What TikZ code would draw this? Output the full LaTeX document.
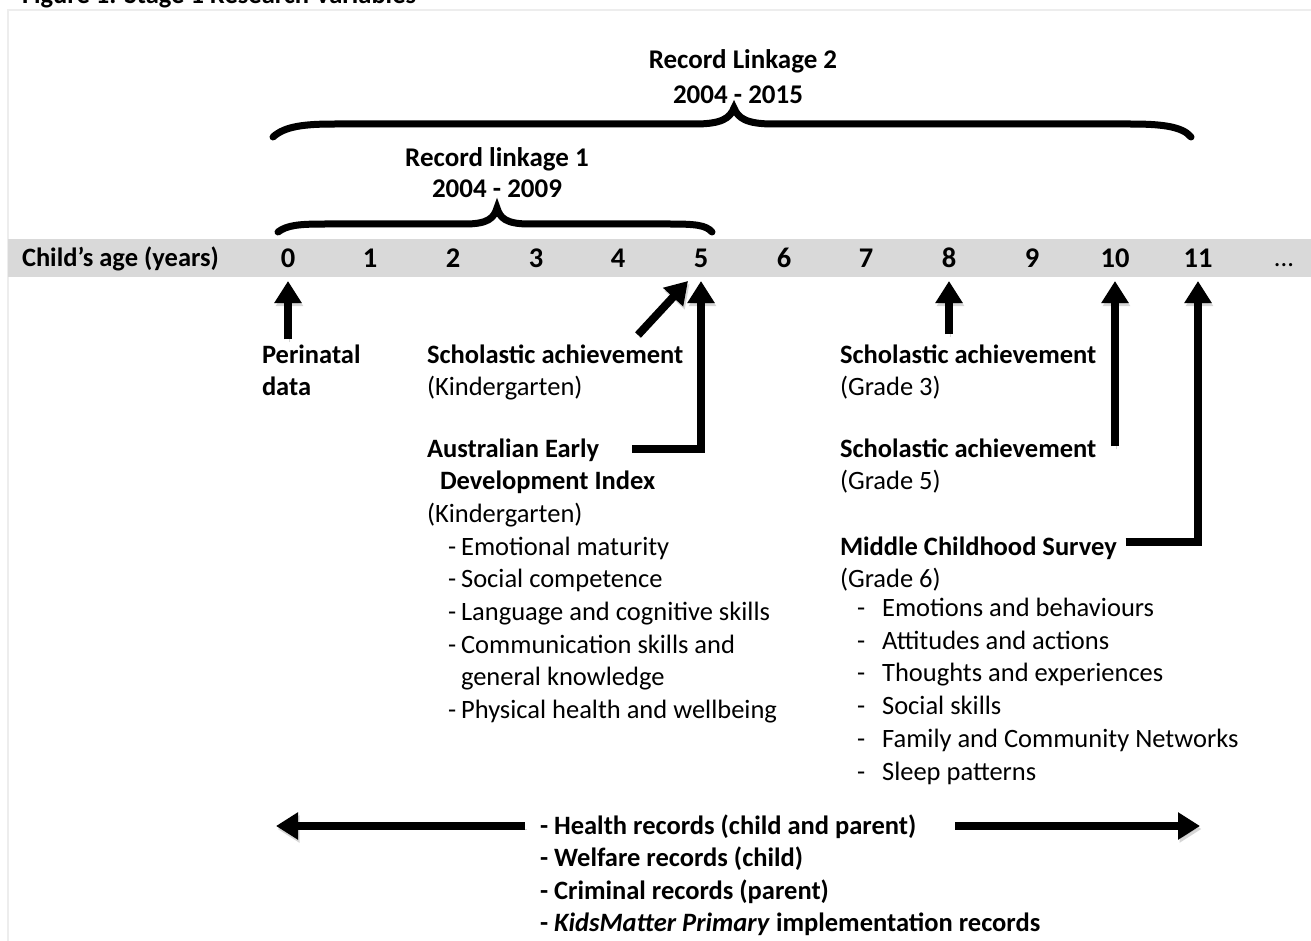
\documentclass[tikz,border=0pt]{standalone}
\usepackage{fontspec}
\setmainfont{Carlito}
\usetikzlibrary{arrows.meta}
\begin{document}
\begin{tikzpicture}[x=1pt,y=-1pt,
  every node/.style={inner sep=0pt, outer sep=0pt, font=\fontsize{26.5}{32.5}\selectfont},
  txt/.style={anchor=base west},
  btxt/.style={anchor=base west, font=\fontsize{26.5}{32.5}\selectfont\bfseries},
  head/.style={anchor=base, font=\fontsize{27}{33}\selectfont\bfseries},
  num/.style={anchor=base, font=\fontsize{28.5}{33}\selectfont\bfseries},
  shadowed/.style={preaction={draw=black!45, fill=none, opacity=0.35, transform canvas={shift={(1.5pt,-3pt)}}}},
  bigarrow/.style={line width=8pt, -{Triangle[length=22pt,width=26pt]}, shadowed},
  bracepath/.style={line width=7pt, line cap=round, shadowed},
]
\clip (0,0) rectangle (1311,941);
\useasboundingbox (0,0) rectangle (1311,941);
\fill[white] (0,0) rectangle (1311,941);

% partial title (cut off at top)
\node[btxt] (title) at (22,4) {Figure 1. Stage 1 Research Variables};

% frame
\draw[black!7, line width=2pt] (8,941) -- (8,10) -- (1311,10);

% band
\fill[black!15] (8,239) rectangle (1311,277);
\node[btxt] (agelbl) at (22,267) {Child’s age (years)};
\foreach \i/\x in {0/288,1/370,2/453,3/536,4/618,5/701,6/784,7/866,8/949,9/1032,10/1115,11/1198}{
  \node[num] (n\i) at (\x,268) {\i};
}
\node[num, font=\fontsize{26.5}{32.5}\selectfont] (ndots) at (1284,267) {...};

% headings
\node[head] (rl2a) at (743,69) {Record Linkage 2};
\node[head] (rl2b) at (738,104) {2004 - 2015};
\node[head] (rl1a) at (497,167) {Record linkage 1};
\node[head] (rl1b) at (497,198) {2004 - 2009};

% braces
\draw[bracepath] (273,137) .. controls (285,126) and (305,124) .. (335,124) -- (695,124)
   .. controls (722,124) and (730,118) .. (734,108)
   .. controls (738,118) and (746,124) .. (773,124) -- (1130,124)
   .. controls (1160,124) and (1182,126) .. (1191,137);
\draw[bracepath] (278,232) .. controls (287,225) and (300,224) .. (325,224) -- (465,224)
   .. controls (488,224) and (494,218) .. (497,208)
   .. controls (500,218) and (506,224) .. (529,224) -- (670,224)
   .. controls (695,224) and (706,225) .. (712,232);

% left texts
\node[btxt] (peri) at (262,363) {Perinatal};
\node[btxt] (peri2) at (262,395) {data};
\node[btxt] (sa1) at (427,363) {Scholastic achievement};
\node[txt] (sa1g) at (427,395) {(Kindergarten)};
\node[btxt] (aedi1) at (427,457) {Australian Early};
\node[btxt] (aedi2) at (440,489) {Development Index};
\node[txt] (aedig) at (427,522) {(Kindergarten)};
\node[txt] (l1) at (448,555) {-\hspace{5pt}Emotional maturity};
\node[txt] (l2) at (448,587) {-\hspace{5pt}Social competence};
\node[txt] (l3) at (448,620) {-\hspace{5pt}Language and cognitive skills};
\node[txt] (l4) at (448,653) {-\hspace{5pt}Communication skills and};
\node[txt] (l4b) at (461,685) {general knowledge};
\node[txt] (l5) at (448,718) {-\hspace{5pt}Physical health and wellbeing};

% right texts
\node[btxt] (sa3) at (840,363) {Scholastic achievement};
\node[txt] (sa3g) at (840,395) {(Grade 3)};
\node[btxt] (sa5) at (840,457) {Scholastic achievement};
\node[txt] (sa5g) at (840,489) {(Grade 5)};
\node[btxt] (mcs) at (840,555) {Middle Childhood Survey};
\node[txt] (mcsg) at (840,587) {(Grade 6)};
\node[txt] (r1) at (857,616) {-\hspace{17pt}Emotions and behaviours};
\node[txt] (r2) at (857,649) {-\hspace{17pt}Attitudes and actions};
\node[txt] (r3) at (857,681) {-\hspace{17pt}Thoughts and experiences};
\node[txt] (r4) at (857,714) {-\hspace{17pt}Social skills};
\node[txt] (r5) at (857,747) {-\hspace{17pt}Family and Community Networks};
\node[txt] (r6) at (857,780) {-\hspace{17pt}Sleep patterns};

% bottom texts
\node[btxt] (b1) at (540,834) {- Health records (child and parent)};
\node[btxt] (b2) at (540,866) {- Welfare records (child)};
\node[btxt] (b3) at (540,899) {- Criminal records (parent)};
\node[btxt] (b4) at (540,931) {- \textit{KidsMatter Primary} implementation records};

% arrow coordinates
\coordinate (t0) at (n0.south |- 0,281);
\coordinate (t5) at (701,281);
\coordinate (t8) at (n8.south |- 0,281);
\coordinate (t10) at (n10.south |- 0,281);
\coordinate (t11) at (n11.south |- 0,281);
\coordinate (d5) at (688,281);

% arrows
\draw[bigarrow] (peri.north -| n0.south) ++(0,-5) -- (t0);
\draw[bigarrow] (638,335) -- (d5);
\draw[bigarrow] (632,449) -- (701,449) -- (t5);
\draw[bigarrow] (n8.south |- 0,334) -- (t8);
\draw[bigarrow] (n10.south |- 0,446) -- (t10);
\draw[bigarrow] ([xshift=9pt]mcs.east |- 0,542) -- (1198,542) -- (t11);

% bottom arrows
\coordinate (lt) at (276,826);
\coordinate (ltail) at (525,826);
\coordinate (rtail) at (955,826);
\coordinate (rt) at (1200,826);
\draw[bigarrow] (ltail) -- (lt);
\draw[bigarrow] (rtail) -- (rt);
\end{tikzpicture}
\end{document}
